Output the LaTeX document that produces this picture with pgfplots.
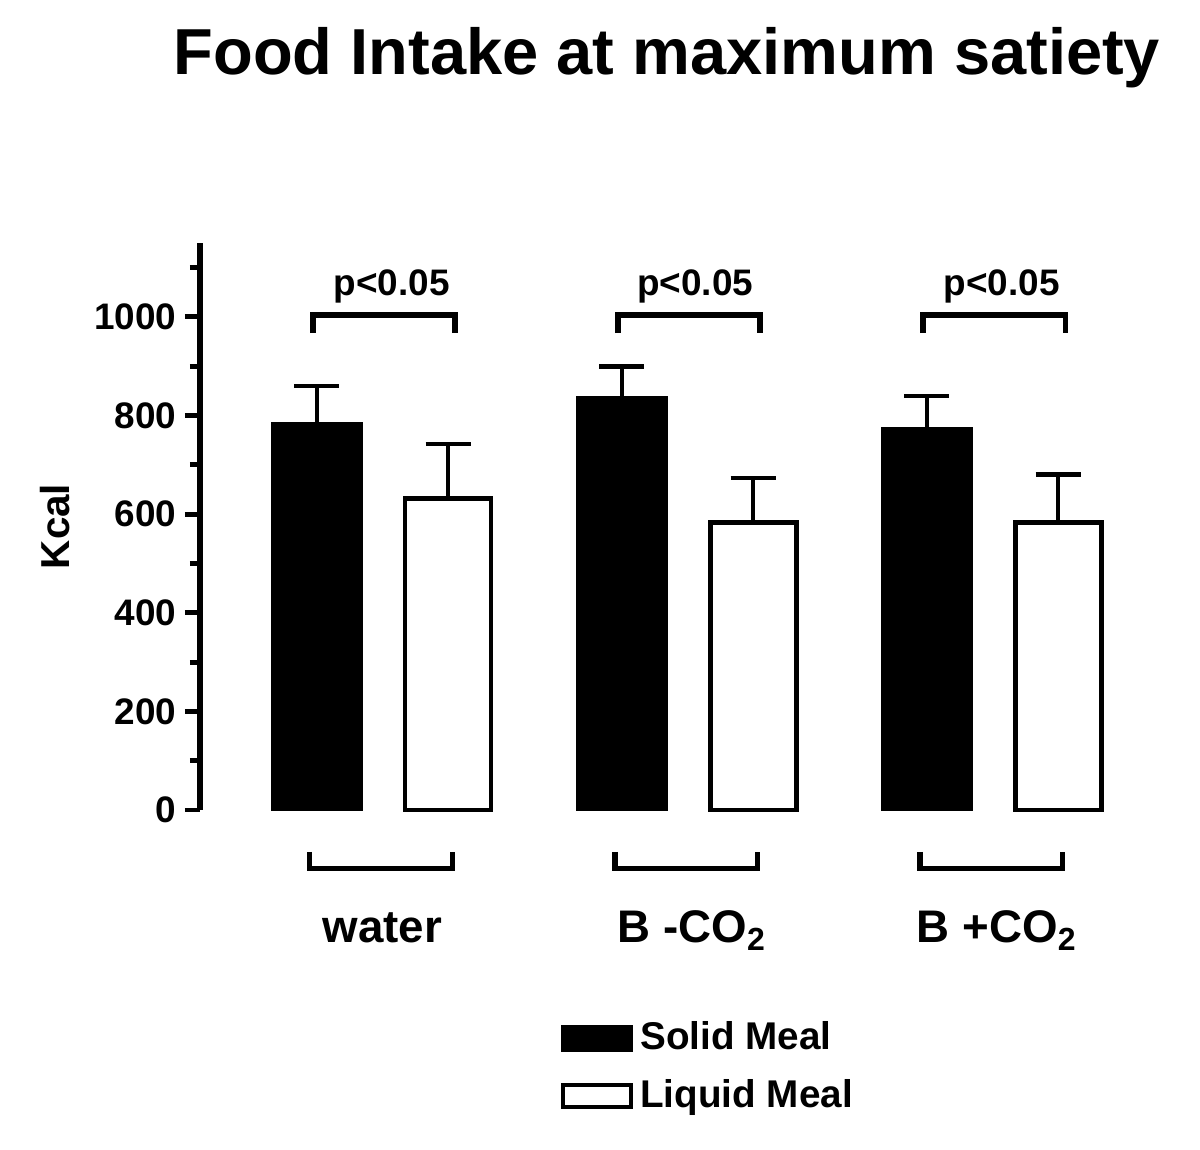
\documentclass[border=0pt]{standalone}
\usepackage{pgfplots}
\pgfplotsset{compat=1.18}
\usepackage{fontspec}
\setmainfont{Liberation Sans}
\begin{document}
\begin{tikzpicture}
\useasboundingbox (-2cm,-3.4cm) rectangle (10cm,8.1cm);
\begin{axis}[
  at={(0,0)}, anchor=south west, scale only axis,
  width=9.1cm, height=5.67cm,
  xmin=-0.598, xmax=2.385, ymin=0, ymax=1150,
  axis y line*=left, axis x line=none,
  clip=false,
  ytick={0,200,...,1000}, minor ytick={100,300,...,1100},
  tick align=outside, major tick length=0.15cm, minor tick length=0.1cm,
  every tick/.style={line width=1.4pt, black},
  axis line style={line width=1.6pt, black},
  /pgf/number format/assume math mode=true,
  /pgf/number format/1000 sep={},
  yticklabel style={font=\bfseries\fontsize{10.5}{12}\selectfont, xshift=1pt},
  ylabel={\bfseries Kcal},
  ylabel style={font=\fontsize{11.5}{13}\selectfont, at={(axis description cs:-0.159,0.5)}, anchor=center},
  legend image code/.code={\draw[#1, line width=1.2pt] (0cm,-0.11cm) rectangle (0.68cm,0.11cm);},
  legend style={at={(rel axis cs:0.396,-0.36)}, anchor=north west, draw=none, fill=none,
    font=\bfseries\fontsize{11}{13}\selectfont, row sep=0.1cm, inner sep=0pt,
    /tikz/every even column/.append style={column sep=0.1cm}},
  legend cell align=left,
]
\addplot[ybar, bar width=0.9cm, bar shift=0pt, fill=black, draw=black,
  error bars/.cd, y dir=plus, y explicit,
  error bar style={line width=1.3pt, black},
  error mark options={rotate=90, mark size=6.4pt, line width=1.3pt, black}]
  coordinates {(-0.215,785) +- (0,75) (0.785,838) +- (0,62) (1.785,775) +- (0,65)};
\addlegendentry{Solid Meal}
\addplot[ybar, bar width=0.86cm, bar shift=0pt, fill=white, draw=black, line width=1.4pt,
  error bars/.cd, y dir=plus, y explicit,
  error bar style={line width=1.3pt, black},
  error mark options={rotate=90, mark size=6.4pt, line width=1.3pt, black}]
  coordinates {(0.215,631) +- (0,111) (1.215,584) +- (0,89) (2.215,584) +- (0,96)};
\addlegendentry{Liquid Meal}
% significance brackets
\draw[line width=1.5pt] (axis cs:-0.228,967) |- (axis cs:0.238,1004) -- (axis cs:0.238,967);
\draw[line width=1.5pt] (axis cs:0.772,967) |- (axis cs:1.238,1004) -- (axis cs:1.238,967);
\draw[line width=1.5pt] (axis cs:1.772,967) |- (axis cs:2.238,1004) -- (axis cs:2.238,967);
\node[font=\bfseries\fontsize{10.5}{12}\selectfont] at (axis cs:0.03,1061) {p<0.05};
\node[font=\bfseries\fontsize{10.5}{12}\selectfont] at (axis cs:1.025,1061) {p<0.05};
\node[font=\bfseries\fontsize{10.5}{12}\selectfont] at (axis cs:2.03,1061) {p<0.05};
% group brackets
\draw[line width=1.5pt] (axis cs:-0.238,-85) |- (axis cs:0.23,-118) -- (axis cs:0.23,-85);
\draw[line width=1.5pt] (axis cs:0.762,-85) |- (axis cs:1.23,-118) -- (axis cs:1.23,-85);
\draw[line width=1.5pt] (axis cs:1.762,-85) |- (axis cs:2.23,-118) -- (axis cs:2.23,-85);
\node[font=\bfseries\fontsize{13}{15}\selectfont] at (axis cs:0,-239) {water};
\node[font=\bfseries\fontsize{13}{15}\selectfont] at (axis cs:1.015,-245) {B -CO\textsubscript{2}};
\node[font=\bfseries\fontsize{13}{15}\selectfont] at (axis cs:2.015,-245) {B +CO\textsubscript{2}};
\end{axis}
\node[font=\bfseries\fontsize{18.5}{22}\selectfont] at (4.67cm,7.52cm) {Food Intake at maximum satiety};
\end{tikzpicture}
\end{document}
